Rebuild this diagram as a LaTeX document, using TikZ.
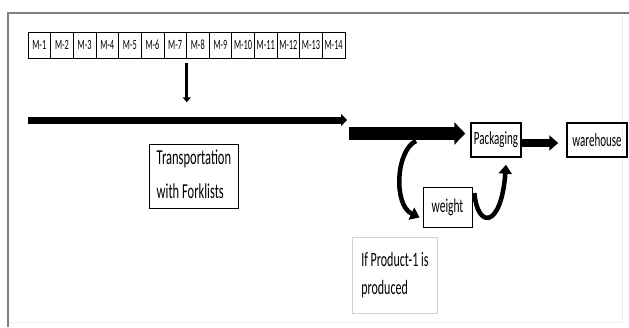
\documentclass[tikz,border=0pt]{standalone}
\usepackage{fontspec}
\usepackage{graphicx}
\setmainfont{Carlito}
\usetikzlibrary{arrows.meta}
\newcommand{\tallt}[1]{\scalebox{1}[1.7]{#1}}
\begin{document}
\begin{tikzpicture}[x=1pt,y=-1pt,
  mbox/.style={draw, line width=0.6pt, minimum width=22.64pt, minimum height=26pt, inner sep=0pt, font=\fontsize{8.3}{9}\selectfont},
  boldbox/.style={draw, line width=1.5pt, inner sep=1pt},
  thinbox/.style={draw, line width=0.9pt, inner sep=2pt},
  fatarrow/.style={line width=#1},
  curvearrow/.style={line width=4.5pt, -{Triangle[length=9pt,width=13pt]}}
]
\useasboundingbox (0,0) rectangle (629,327);
% frame
\draw[gray, line width=1.4pt] (8,327) -- (8,13) -- (629,13);
\draw[black!7, line width=0.8pt] (622,14) -- (622,322) -- (9,322);

% machine row
\foreach \i in {1,...,14} {
  \node[mbox] (m\i) at ({28+22.64*(\i-0.5)},45) {\tallt{M-\i}};
}

% down arrow
\coordinate (dtop) at ([yshift=-5pt]m7.south east);
\coordinate (dbot) at ([yshift=-44pt]m7.south east);
\draw[line width=2.6pt, -{Triangle[length=5pt,width=8pt]}] (dtop) -- (dbot);

% long transport arrow
\coordinate (a1s) at (28,120);
\coordinate (a1e) at (347,120);
\draw[fatarrow=7pt, -{Triangle[length=6pt,width=12pt]}] (a1s) -- (a1e);

% boxes
\node[thinbox, minimum width=89pt, minimum height=61pt, anchor=north west] (trans) at (149,144)
  {\tallt{\fontsize{12.5}{15}\selectfont\begin{tabular}{@{}l@{}}Transportation\\[5pt]with Forklists\end{tabular}}};
\node[boldbox, minimum width=50pt, minimum height=34pt] (pack) at (496,140)
  {\tallt{\fontsize{11}{13}\selectfont Packaging}};
\node[boldbox, minimum width=60pt, minimum height=34pt] (ware) at (597,140)
  {\tallt{\fontsize{11}{13}\selectfont warehouse}};
\node[thinbox, minimum width=49pt, minimum height=40pt] (weight) at (447.5,207)
  {\tallt{\fontsize{11.5}{13}\selectfont weight}};
\node[draw=black!18, line width=0.8pt, minimum width=85pt, minimum height=76pt, inner sep=3pt, anchor=north west, align=left] (prod) at (352,237)
  {\tallt{\fontsize{12}{14.4}\selectfont\begin{tabular}{@{}l@{}}If Product-1 is\\[2pt]produced\end{tabular}}};

% second arrow into packaging
\coordinate (a2s) at (349,133.5);
\draw[fatarrow=13pt, -{Triangle[length=11pt,width=22pt]}, shorten >=5pt] (a2s) -- (a2s -| pack.west);

% packaging to warehouse
\draw[fatarrow=8pt, -{Triangle[length=9pt,width=15pt]}, shorten >=8pt] ([yshift=-3pt]pack.east) -- ([yshift=-3pt]ware.west);

% curved arrows
\coordinate (c1) at (416,141);
\draw[curvearrow] (c1) .. controls (396,150) and (393,205) .. ([shift={(-3,-10)}]weight.south west);
\draw[curvearrow] ([shift={(2,-14)}]weight.east) .. controls (477,228) and (501,230) .. ([shift={(10,7)}]pack.south);
\end{tikzpicture}
\end{document}
